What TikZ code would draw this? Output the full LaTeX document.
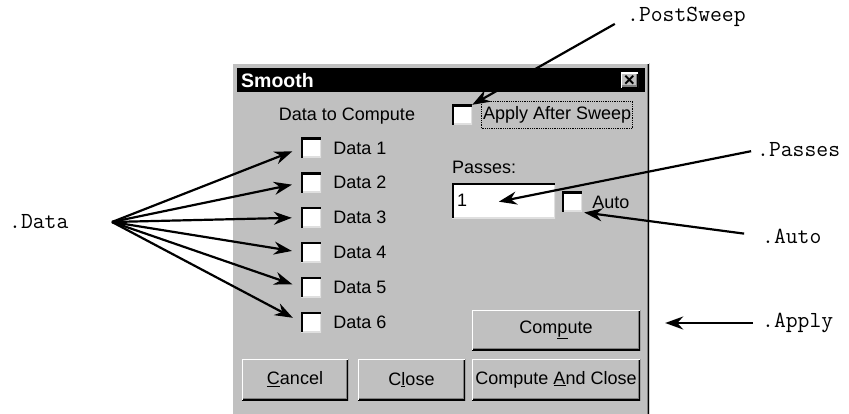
\documentclass[tikz,border=0pt]{standalone}
\usepackage{fontspec}
\setmainfont{Liberation Sans}
\usetikzlibrary{arrows.meta,positioning}
\definecolor{dlggray}{HTML}{C0C0C0}
\definecolor{dkgray}{HTML}{808080}
\definecolor{ltgray}{HTML}{DFDFDF}
\tikzset{
  sunken/.style={path picture={
    \draw[line width=3pt,ltgray] (path picture bounding box.south west) -| (path picture bounding box.north east);
    \draw[line width=3.5pt,black] (path picture bounding box.south west) |- (path picture bounding box.north east);}},
  raised/.style={path picture={
    \draw[line width=5pt,dkgray] (path picture bounding box.south west) -| (path picture bounding box.north east);
    \draw[line width=2.5pt,black] (path picture bounding box.south west) -| (path picture bounding box.north east);
    \draw[line width=2.5pt,white] (path picture bounding box.south west) |- (path picture bounding box.north east);}},
  chkbox/.style={fill=white,minimum size=20pt,inner sep=0pt,sunken},
  dlgtext/.style={font=\fontsize{18}{20}\selectfont,inner sep=0pt},
  btn/.style={fill=dlggray,raised,font=\fontsize{18}{20}\selectfont,minimum height=41pt,inner sep=0pt},
  lbl/.style={font=\ttfamily\fontsize{23}{25}\selectfont,inner sep=0pt,anchor=west},
  pointer/.style={line width=2.2pt,-{Stealth[length=18pt,width=13pt]}}
}
\begin{document}
\begin{tikzpicture}[x=1pt,y=-1pt]
\useasboundingbox (0,0) rectangle (849,414);
% dialog window
\node[fill=dlggray,raised,anchor=north west,minimum width=417pt,minimum height=360pt,inner sep=0pt] (dlg) at (232,63) {};
\node[fill=black,anchor=north west,minimum width=408pt,minimum height=24pt,inner sep=0pt] (title) at (237,68) {};
\node[dlgtext,text=white,font=\bfseries\fontsize{19.5}{20}\selectfont,anchor=west] (titletext) at ([xshift=4pt]title.west) {Smooth};
\node[btn,minimum width=17pt,minimum height=15pt,font=\bfseries\fontsize{19}{19}\selectfont] (closex) at (629.5,80.5) {×};
% data column
\node[dlgtext] (heading) at (347,116) {Data to Compute};
\foreach \i in {1,...,6}{
  \node[chkbox] (cb\i) at (311,{148+34.8*(\i-1)}) {};
  \node[dlgtext,right=12pt of cb\i] (data\i) {Data \i};
}
% right column
\node[chkbox] (cbapply) at (462,115) {};
\node[dlgtext,draw,densely dotted,line width=0.8pt,inner xsep=1.5pt,inner ysep=5pt,right=9pt of cbapply] (applytext) {Apply After Sweep};
\node[dlgtext,anchor=west] (passes) at (452,167) {Passes:};
\node[fill=white,sunken,anchor=north west,minimum width=103pt,minimum height=35pt,inner sep=0pt] (passbox) at (452,183) {};
\node[dlgtext,anchor=west] (passval) at ([xshift=5pt]passbox.west) {1};
\node[chkbox] (cbauto) at (572,202) {};
\node[dlgtext,right=10pt of cbauto] (autotext) {Auto};
% buttons
\node[btn,minimum width=168pt,minimum height=40pt] (compute) at (556,330) {Com\underline{p}ute};
\node[btn,minimum width=106pt] (cancel) at (295,379.5) {\underline{C}ancel};
\node[btn,minimum width=107pt] (close) at (411.5,379.5) {C\underline{l}ose};
\node[btn,minimum width=168pt] (cmpclose) at (556,379.5) {Compute \underline{A}nd Close};
% labels
\node[lbl] (datalbl) at (9,222) {.Data};
\node[lbl] (pslbl) at (627,17) {.PostSweep};
\node[lbl] (passlbl) at (757,150) {.Passes};
\node[lbl] (autolbl) at (762,236) {.Auto};
\node[lbl] (applylbl) at (762,323) {.Apply};
% pointers
\coordinate (dataorig) at (112,222);
\foreach \i in {1,...,6}
  \draw[pointer,shorten >=9pt] (dataorig) -- (cb\i.west);
\draw[pointer,shorten <=14pt] (pslbl.west) -- (cbapply.north east);
\draw[pointer,shorten <=6pt,shorten >=-5pt] (passlbl.west) -- (passbox.center);
\draw[pointer,shorten <=18pt,shorten >=2pt] (autolbl.west) -- (cbauto.south east);
\draw[pointer,shorten <=9pt,shorten >=25pt] (applylbl.west) -- (applylbl.west -| compute.east);
\end{tikzpicture}
\end{document}
